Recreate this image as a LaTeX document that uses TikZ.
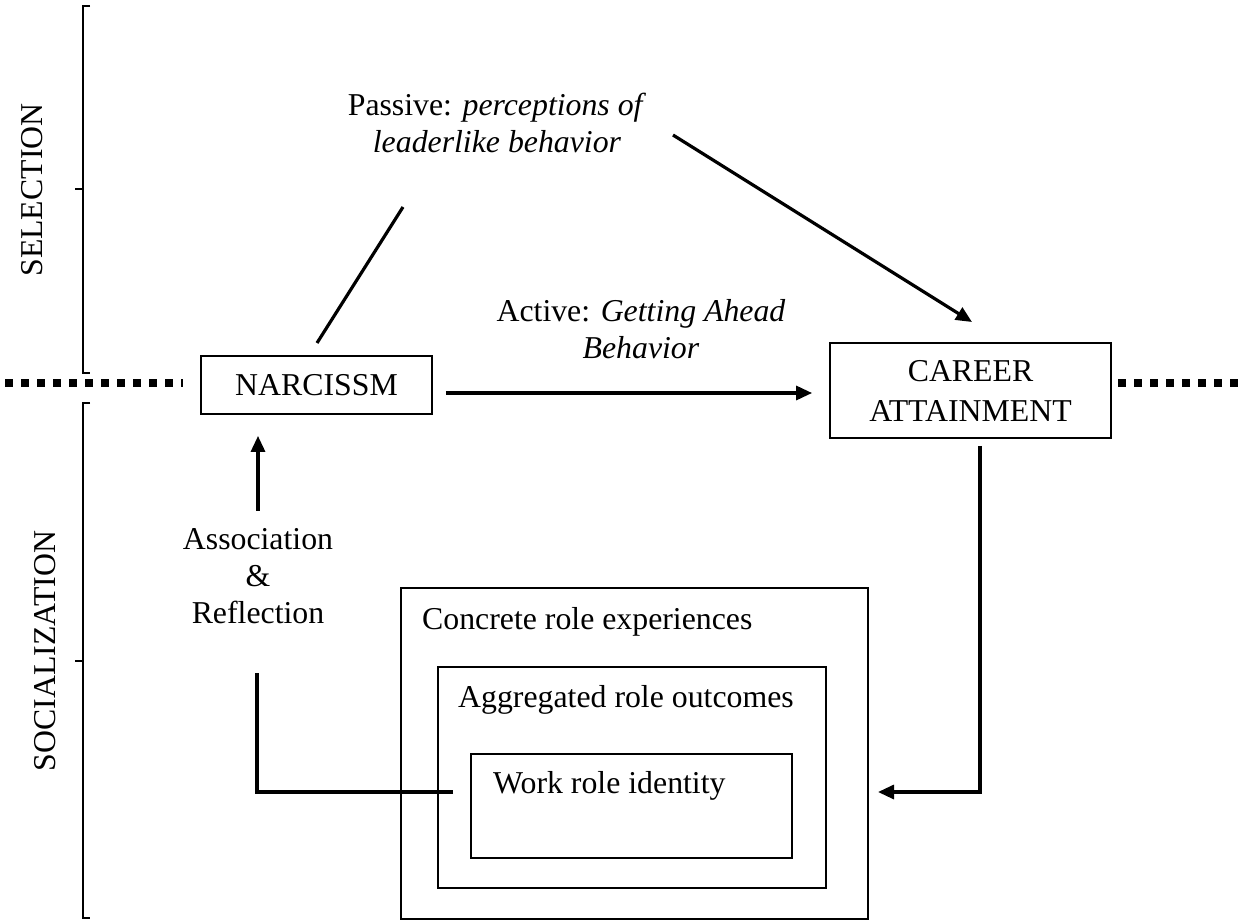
\documentclass[tikz,border=0pt]{standalone}
\usepackage{fontspec}
\setmainfont{Liberation Serif}
\usetikzlibrary{arrows.meta,calc}
\begin{document}
\begin{tikzpicture}[x=1pt,y=-1pt,
  font=\fontsize{31.8}{37}\selectfont,
  box/.style={draw,line width=1.8pt,inner sep=0pt,align=center},
  lbl/.style={inner sep=0pt,align=center},
  conn/.style={line width=3.2pt},
  arr/.style={line width=3.2pt,-{Triangle[length=16pt,width=14pt]}},
  brk/.style={line width=2.5pt},
  dots/.style={line width=8pt,dash pattern=on 8pt off 8pt}]
\useasboundingbox (0,0) rectangle (1238,920);

% brackets and side labels
\draw[brk] (90,6) -- (83,6) -- (83,373) -- (90,373);
\draw[brk] (83,189) -- (75,189);
\draw[brk] (90,403) -- (83,403) -- (83,918) -- (90,918);
\draw[brk] (83,661) -- (75,661);
\node[lbl,rotate=90] (sel) at (32,190) {SELECTION};
\node[lbl,rotate=90] (soc) at (45,651) {SOCIALIZATION};

% dotted separator
\draw[dots] (5,383) -- (183,383);
\draw[dots] (1118,383) -- (1238,383);

% main boxes
\node[box,minimum width=231pt,minimum height=58pt] (narc) at (316.5,385) {NARCISSM};
\node[box,minimum width=281pt,minimum height=95pt] (career) at (970.5,390.5) {CAREER\\[3pt]ATTAINMENT};

% nested boxes
\node[box,minimum width=467pt,minimum height=331pt] (outer) at (634.5,753.5) {};
\node[box,minimum width=388pt,minimum height=221pt] (middle) at (632,777.5) {};
\node[box,minimum width=321pt,minimum height=104pt] (inner) at (631.5,806) {};
\node[lbl,anchor=base west] (tconc) at (422,629) {Concrete role experiences};
\node[lbl,anchor=base west] (taggr) at (458,707) {Aggregated role outcomes};
\node[lbl,anchor=base west] (twork) at (493,793) {Work role identity};

% labels
\node[lbl] (passive) at (497,123) {Passive: \textit{perceptions of}\\\textit{leaderlike behavior}};
\node[lbl] (active) at (641,329) {Active: \textit{Getting Ahead}\\\textit{Behavior}};
\node[lbl] (assoc) at (258,576.5) {Association\\\&\\Reflection};

% connectors
\coordinate (pl1) at (317,343);
\coordinate (pl2) at (403,207);
\draw[conn] (pl1) -- (pl2);
\coordinate (pa1) at (673,135);
\coordinate (pa2) at (972,322);
\draw[arr] (pa1) -- (pa2);
\draw[arr,shorten <=13pt,shorten >=17pt] ([yshift=-8pt]narc.east) -- ([yshift=-8pt]narc.east -| career.west);
\draw[arr,shorten <=18pt,shorten >=21pt] (assoc.north) -- (assoc.north |- narc.south);
\coordinate (wr1) at (453,792);
\coordinate (wr2) at (257,673);
\draw[conn] (wr1) -| (wr2);
\coordinate (ca2) at (878,792);
\draw[arr,shorten <=7pt] ([xshift=9.5pt]career.south) |- (ca2);
\end{tikzpicture}
\end{document}
